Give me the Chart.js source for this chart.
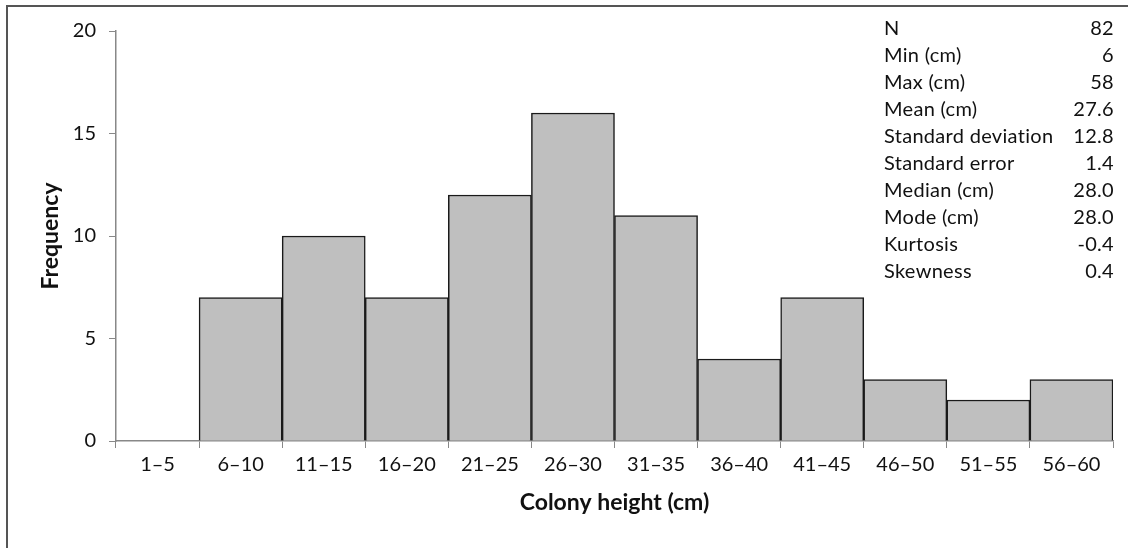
<!DOCTYPE html>
<html>
<head>
<meta charset="utf-8">
<script src="https://cdn.jsdelivr.net/npm/chart.js@4"></script>
<style>
  html, body { margin: 0; padding: 0; background: #fff; }
  #wrap { position: relative; width: 1128px; height: 548px; }
</style>
</head>
<body>
<div id="wrap"><canvas id="myChart"></canvas></div>
<script>
const bins = ["1\u20135","6\u201310","11\u201315","16\u201320","21\u201325","26\u201330","31\u201335","36\u201340","41\u201345","46\u201350","51\u201355","56\u201360"];
const freq = [0, 7, 10, 7, 12, 16, 11, 4, 7, 3, 2, 3];
const yTicks = [0, 5, 10, 15, 20];
const statLabels = ["N","Min (cm)","Max (cm)","Mean (cm)","Standard deviation","Standard error","Median (cm)","Mode (cm)","Kurtosis","Skewness"];
const statValues = ["82","6","58","27.6","12.8","1.4","28.0","28.0","-0.4","0.4"];

const FONT = "Lato, 'Open Sans', sans-serif";

// frame round the figure + the stats table
const extras = {
  id: 'extras',
  afterDraw(chart) {
    const c = chart.ctx;
    c.save();
    c.strokeStyle = '#555';
    c.lineWidth = 2;
    c.beginPath();
    c.moveTo(7, 548);
    c.lineTo(7, 6);
    c.lineTo(1128, 6);
    c.stroke();

    c.font = '20px ' + FONT;
    c.letterSpacing = '0.3px';
    c.fillStyle = '#111';
    c.textBaseline = 'middle';
    statLabels.forEach((lab, i) => {
      const y = 29 + i * 27;
      c.textAlign = 'left';
      c.fillText(lab, 884, y);
      c.textAlign = 'right';
      c.fillText(statValues[i], 1114, y);
    });
    c.restore();
  }
};

function makeChart() {
  const ctx = document.getElementById('myChart');
  new Chart(ctx, {
    type: 'bar',
    data: {
      labels: bins,
      datasets: [{
        data: freq,
        backgroundColor: '#bfbfbf',
        borderColor: '#1a1a1a',
        borderWidth: 1.5,
        categoryPercentage: 1,
        barPercentage: 1
      }]
    },
    options: {
      responsive: true,
      maintainAspectRatio: false,
      animation: false,
      layout: { padding: { left: 37, right: 15, top: 31, bottom: 30 } },
      plugins: { legend: { display: false }, tooltip: { enabled: false } },
      scales: {
        x: {
          afterFit: s => { s.height = 77; },
          grid: { drawOnChartArea: false, drawTicks: true, tickLength: 7, color: '#888', offset: true },
          border: { color: '#888', width: 1.5 },
          ticks: { color: '#111', font: { family: FONT, size: 20 }, padding: 5, maxRotation: 0, autoSkip: false },
          title: { display: true, text: 'Colony height (cm)', color: '#111',
                   font: { family: FONT, size: 23, weight: 'bold' }, padding: { top: 0, bottom: 2 } }
        },
        y: {
          min: 0, max: 20,
          afterFit: s => { s.width = 79; },
          afterBuildTicks: s => { s.ticks = yTicks.map(v => ({ value: v })); },
          grid: { drawOnChartArea: false, drawTicks: true, tickLength: 7, color: '#888' },
          border: { color: '#888', width: 1.5 },
          ticks: { color: '#111', font: { family: FONT, size: 20 }, padding: 13 },
          title: { display: true, text: 'Frequency', color: '#111',
                   font: { family: FONT, size: 23, weight: 'bold' }, padding: { top: 0, bottom: 0 } }
        }
      }
    },
    plugins: [extras]
  });
}

makeChart();
</script>
</body>
</html>
